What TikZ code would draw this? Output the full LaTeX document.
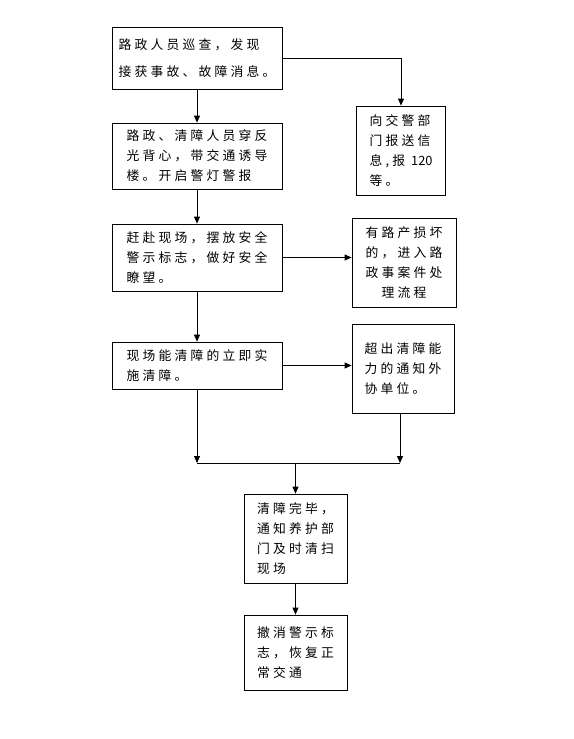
\documentclass[tikz,border=0pt]{standalone}
\usepackage{fontspec}
\newfontfamily\cjk{Noto Sans CJK SC}[LetterSpace=25]
\newfontfamily\cjkplain{Noto Sans CJK SC}
\usetikzlibrary{arrows.meta, calc}
\tikzset{
  flowline/.style  = {line width=0.8pt, black},
  flowarrow/.style = {flowline, -{Triangle[length=7pt, width=6pt]}},
  stepbox/.style   = {draw, line width=0.8pt, align=left, inner sep=0pt,
                      font=\cjk\fontsize{12.8}{20}\selectfont},
}

\begin{document}
\begin{tikzpicture}[x=1pt, y=-1pt,
  mainbox/.style = {stepbox, minimum width=170pt},
  sidebox/.style = {stepbox, minimum height=89pt},
]
\useasboundingbox (0,0) rectangle (573,739);

% ---- main column ---------------------------------------------------------
\node[mainbox, minimum height=62pt] (patrol) at (197,58)
  {路政人员巡查，发现\\[7pt]接获事故、故障消息。};
\node[mainbox, minimum height=66pt] (vest) at (197,156)
  {路政、清障人员穿反\\光背心，带交通诱导\\楼。开启警灯警报};
\node[mainbox, minimum height=67pt] (scene) at (197,257.5)
  {赶赴现场，摆放安全\\警示标志，做好安全\\瞭望。};
\node[mainbox, minimum height=47pt] (clear) at (197,365.5)
  {现场能清障的立即实\\施清障。};

% ---- side boxes ----------------------------------------------------------
\node[sidebox, minimum width=89pt] (report) at (401,150.5)
  {向交警部\\门报送信\\息,报 {\cjkplain 120}\\等。};
\node[sidebox, minimum width=104pt, align=center] (damage) at (404,262.5)
  {有路产损坏\\的，进入路\\政事案件处\\理流程};
\node[sidebox, minimum width=102pt] (beyond) at (403,368.5)
  {超出清障能\\力的通知外\\协单位。};

% ---- lower boxes ---------------------------------------------------------
\node[stepbox, minimum width=103pt, minimum height=89pt] (finish) at (295.5,538.5)
  {清障完毕，\\通知养护部\\门及时清扫\\现场};
\node[stepbox, minimum width=103pt, minimum height=75pt] (restore) at (295.5,652.5)
  {撤消警示标\\志，恢复正\\常交通};

\coordinate (jl) at (197,463);
\coordinate (jr) at (400,463);
\coordinate (jm) at (295.5,463);

% ---- connectors ----------------------------------------------------------
\draw[flowarrow] (patrol) -- (vest);
\draw[flowarrow] (patrol.east) -| (report.north);
\draw[flowarrow] (vest) -- (scene);
\draw[flowarrow] (scene.east) -- (scene.east -| damage.west);
\draw[flowarrow] (scene) -- (clear);
\draw[flowarrow] (clear.east) -- (clear.east -| beyond.west);
\draw[flowarrow] (clear) -- (jl);
\draw[flowarrow] (beyond.south -| jr) -- (jr);
\draw[flowline]  (jl) -- (jr);
\draw[flowarrow] (jm) -- (finish);
\draw[flowarrow] (finish) -- (restore);

\end{tikzpicture}
\end{document}
